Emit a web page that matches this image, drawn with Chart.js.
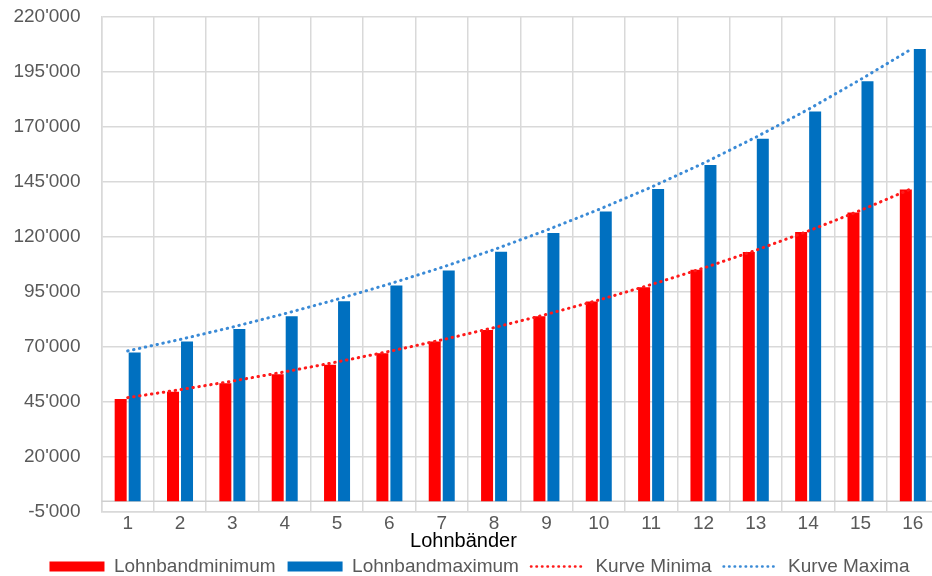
<!DOCTYPE html>
<html>
<head>
<meta charset="utf-8">
<script src="https://cdn.jsdelivr.net/npm/chart.js@4.4.1/dist/chart.umd.min.js"></script>
<style>
  html, body { margin: 0; padding: 0; background: #fff; overflow: hidden; }
  #wrap { width: 932px; height: 576px; overflow: hidden; }
</style>
</head>
<body>
<div id="wrap"><canvas id="lohnChart" width="945" height="576"></canvas></div>
<script>
// Lohnbänder 1..16
const bandLabels = ['1', '2', '3', '4', '5', '6', '7', '8', '9', '10', '11', '12', '13', '14', '15', '16'];

const minValues = [46400, 49700, 53500, 57600, 61900, 67200, 72500, 77700, 83900, 90600, 97100, 105000, 113100, 122200, 131000, 141500];
const maxValues = [67500, 72500, 78100, 83900, 90700, 97900, 104700, 113200, 121700, 131500, 141700, 152600, 164500, 176900, 190600, 205200];

// dotted trend curves, read at each band
const minCurve = [47000, 50600, 54500, 58700, 63200, 68000, 73200, 78800, 84800, 91300, 98300, 105800, 113900, 122600, 132000, 142100];
const maxCurve = [68200, 73400, 79000, 85100, 91600, 98600, 106100, 114200, 123000, 132400, 142500, 153400, 165200, 177800, 191400, 205600];

const yTicks = { min: -5000, max: 220000, step: 25000 };

const FONT = "'Liberation Sans', Arial, sans-serif";
const GRID = '#d9d9d9';
const LABEL = '#595959';

function swissNumber(v) {
  const s = String(Math.abs(v)).replace(/\B(?=(\d{3})+(?!\d))/g, "'");
  return (v < 0 ? '-' : '') + s;
}

// horizontal axis line at 0 (Excel draws it where the axis crosses)
const zeroLine = {
  id: 'zeroLine',
  beforeDatasetsDraw(chart) {
    const { ctx, chartArea, scales } = chart;
    const y = scales.y.getPixelForValue(0);
    ctx.save();
    ctx.strokeStyle = '#cfcfcf';
    ctx.lineWidth = 1.5;
    ctx.beginPath();
    ctx.moveTo(chartArea.left, y);
    ctx.lineTo(chartArea.right, y);
    ctx.stroke();
    ctx.restore();
  }
};

// caption and legend are not centred on the canvas in the original
const nudgeBoxes = {
  id: 'nudgeBoxes',
  afterLayout(chart) {
    const t = chart.titleBlock;
    if (t) { t.left -= 6; t.right -= 6; }
    const l = chart.legend;
    if (l) { l.left += 10; l.right += 10; }
  }
};

new Chart(document.getElementById('lohnChart'), {
  type: 'bar',
  data: {
    labels: bandLabels,
    datasets: [
      {
        label: 'Lohnbandminimum',
        data: minValues,
        backgroundColor: '#ff0000',
        order: 1
      },
      {
        label: 'Lohnbandmaximum',
        data: maxValues,
        backgroundColor: '#0070c0',
        order: 1
      },
      {
        type: 'line',
        label: 'Kurve Minima',
        data: minCurve,
        borderColor: '#ff1a1a',
        borderWidth: 3,
        borderDash: [0.5, 5.5],
        borderCapStyle: 'round',
        pointRadius: 0,
        fill: false,
        order: 0
      },
      {
        type: 'line',
        label: 'Kurve Maxima',
        data: maxCurve,
        borderColor: '#3a8ad6',
        borderWidth: 3,
        borderDash: [0.5, 5.5],
        borderCapStyle: 'round',
        pointRadius: 0,
        fill: false,
        order: 0
      }
    ]
  },
  options: {
    responsive: false,
    animation: false,
    devicePixelRatio: 1,
    datasets: {
      bar: { categoryPercentage: 0.535, barPercentage: 0.857 }
    },
    layout: { padding: { left: 0, right: 6, top: 16.5, bottom: -10 } },
    scales: {
      x: {
        offset: true,
        grid: { color: GRID, lineWidth: 1.5, drawTicks: false, offset: true },
        border: { color: GRID, width: 1.5 },
        ticks: { color: LABEL, font: { family: FONT, size: 19 }, padding: 0, maxRotation: 0 }
      },
      y: {
        min: yTicks.min,
        max: yTicks.max,
        grid: { color: GRID, lineWidth: 1.5, drawTicks: false },
        border: { color: GRID, width: 1.5 },
        ticks: {
          stepSize: yTicks.step,
          color: LABEL,
          font: { family: FONT, size: 19 },
          padding: 21,
          callback: v => swissNumber(v)
        },
        afterFit(scale) {
          scale.width = 101.5;
          // tick padding is horizontal here, do not let it push the plot down
          scale.paddingTop = 0;
          scale.paddingBottom = 0;
        }
      }
    },
    plugins: {
      tooltip: { enabled: false },
      title: {
        display: true,
        text: 'Lohnbänder',
        position: 'bottom',
        weight: 500,
        color: '#000',
        font: { family: FONT, size: 20, weight: 'normal' },
        padding: { top: -6, bottom: -8 }
      },
      legend: {
        position: 'bottom',
        labels: {
          color: LABEL,
          font: { family: FONT, size: 19 },
          usePointStyle: true,
          pointStyleWidth: 55,
          boxHeight: 10,
          padding: 12,
          sort: (a, b) => a.datasetIndex - b.datasetIndex,
          generateLabels(chart) {
            const items = Chart.defaults.plugins.legend.labels.generateLabels(chart);
            items.forEach(it => {
              const ds = chart.data.datasets[it.datasetIndex];
              if (ds.type === 'line') {
                it.pointStyle = 'line';
                it.strokeStyle = ds.borderColor;
                it.lineWidth = 2.5;
                it.lineDash = [0.5, 5];
                it.lineCap = 'round';
              } else {
                it.pointStyle = 'rect';
                it.fillStyle = ds.backgroundColor;
                it.strokeStyle = ds.backgroundColor;
                it.lineWidth = 0;
              }
            });
            return items;
          }
        }
      }
    }
  },
  plugins: [zeroLine, nudgeBoxes]
});
</script>
</body>
</html>
